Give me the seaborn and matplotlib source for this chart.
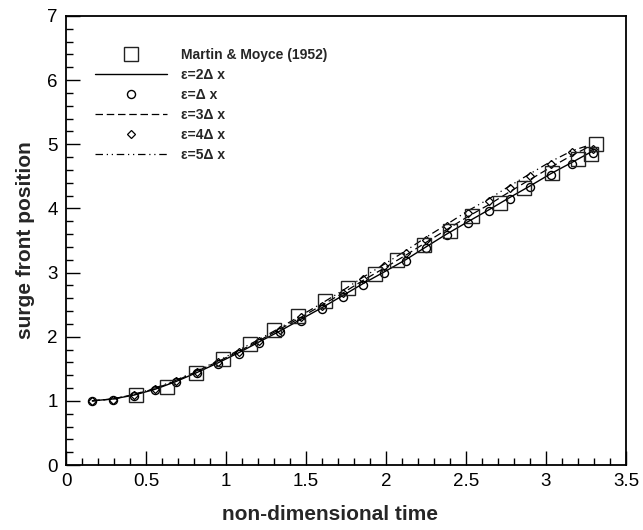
import matplotlib
matplotlib.use("Agg")
import matplotlib.pyplot as plt
import seaborn as sns
import pandas as pd
from matplotlib.ticker import MultipleLocator, FuncFormatter

# ---- data ----
mm_t = [0.44, 0.63, 0.81, 0.98, 1.15, 1.30, 1.45, 1.62, 1.76, 1.93, 2.07, 2.24,
        2.40, 2.54, 2.71, 2.86, 3.04, 3.20, 3.28, 3.31]
mm_v = [1.09, 1.21, 1.43, 1.65, 1.88, 2.10, 2.32, 2.55, 2.76, 2.98, 3.20, 3.43,
        3.65, 3.88, 4.09, 4.32, 4.55, 4.77, 4.85, 5.00]

sim_t = [0.164, 0.295, 0.425, 0.556, 0.686, 0.817, 0.948, 1.079, 1.208, 1.338,
         1.467, 1.598, 1.729, 1.858, 1.989, 2.123, 2.250, 2.379, 2.510, 2.644,
         2.773, 2.900, 3.029, 3.164, 3.296]

eps1_v = [1.00, 1.02, 1.08, 1.17, 1.29, 1.43, 1.57, 1.73, 1.90, 2.07, 2.25, 2.43,
          2.62, 2.81, 2.99, 3.18, 3.38, 3.58, 3.77, 3.96, 4.15, 4.33, 4.52, 4.70, 4.87]
eps2_v = [1.00, 1.03, 1.09, 1.18, 1.30, 1.44, 1.59, 1.75, 1.92, 2.09, 2.27, 2.45,
          2.64, 2.83, 3.01, 3.20, 3.40, 3.60, 3.79, 3.98, 4.17, 4.35, 4.54, 4.72, 4.90]
eps3_t = [0.164, 0.295, 0.425, 0.556, 0.686, 0.817, 0.948, 1.079, 1.208, 1.338,
          1.467, 1.598, 1.729, 1.858, 1.989, 2.123, 2.250, 2.379, 2.510, 2.644,
          2.773, 2.900, 3.029, 3.164, 3.260, 3.310]
eps3_v = [1.00, 1.03, 1.10, 1.19, 1.31, 1.46, 1.61, 1.77, 1.94, 2.12, 2.30, 2.49,
          2.68, 2.88, 3.07, 3.27, 3.47, 3.67, 3.87, 4.06, 4.26, 4.45, 4.64, 4.83, 4.95, 4.92]
eps4_v = [1.00, 1.02, 1.09, 1.19, 1.31, 1.45, 1.60, 1.76, 1.93, 2.11, 2.30, 2.48,
          2.68, 2.90, 3.10, 3.31, 3.51, 3.72, 3.93, 4.12, 4.32, 4.51, 4.70, 4.88, 4.93]
eps5_t = [0.164, 0.295, 0.425, 0.556, 0.686, 0.817, 0.948, 1.079, 1.208, 1.338,
          1.467, 1.598, 1.729, 1.858, 1.989, 2.123, 2.250, 2.379, 2.510, 2.644,
          2.773, 2.900, 3.029, 3.164, 3.250]
eps5_v = [1.00, 1.03, 1.10, 1.20, 1.32, 1.47, 1.62, 1.79, 1.96, 2.14, 2.33, 2.52,
          2.72, 2.93, 3.13, 3.34, 3.55, 3.75, 3.96, 4.15, 4.35, 4.54, 4.73, 4.90, 4.97]

labels = ["Martin & Moyce (1952)", "ε=2Δ x", "ε=Δ x", "ε=3Δ x", "ε=4Δ x", "ε=5Δ x"]

sns.set_theme(style="white")
plt.rcParams['font.family'] = ['Liberation Sans', 'DejaVu Sans']

fig = plt.figure(figsize=(6.43, 5.30), dpi=100)
ax = fig.add_axes([66/643, 1-465/530, (626-66)/643, (465-16)/530])

k = dict(sort=False, estimator=None, ax=ax, color='black')
sns.lineplot(x=sim_t, y=eps2_v, lw=1.0, linestyle='-', label=labels[1], **k)
sns.lineplot(x=eps3_t, y=eps3_v, lw=0.9, linestyle=(0, (6, 3)), label=labels[3], **k)
sns.lineplot(x=eps5_t, y=eps5_v, lw=0.9, linestyle=(0, (6, 3, 1, 3, 1, 3)), label=labels[5], **k)
sns.lineplot(x=sim_t, y=eps1_v, linestyle='', marker='o', markersize=5.8,
             markerfacecolor='none', markeredgecolor='black', markeredgewidth=1.0,
             label=labels[2], **k)
sns.lineplot(x=sim_t, y=eps4_v, linestyle='', marker='D', markersize=4,
             markerfacecolor='none', markeredgecolor='black', markeredgewidth=0.9,
             label=labels[4], **k)
sns.lineplot(x=mm_t, y=mm_v, linestyle='', marker='s', markersize=10,
             markerfacecolor='none', markeredgecolor='#222222', markeredgewidth=1.0,
             label=labels[0], **k)

ax.set_xlim(0, 3.5)
ax.set_ylim(0, 7)
ax.xaxis.set_major_locator(MultipleLocator(0.5))
ax.xaxis.set_minor_locator(MultipleLocator(0.1))
ax.yaxis.set_major_locator(MultipleLocator(1))
ax.yaxis.set_minor_locator(MultipleLocator(0.2))
fmt = FuncFormatter(lambda v, p: f"{v:g}")
ax.xaxis.set_major_formatter(fmt)
ax.yaxis.set_major_formatter(fmt)
ax.tick_params(which='both', direction='in', top=False, right=False,
               left=True, bottom=True, color='black', labelsize=13.5, labelcolor='black')
ax.tick_params(which='major', length=10, width=1.0, pad=6)
ax.tick_params(which='minor', length=5, width=1.0)
for s in ax.spines.values():
    s.set_color('black')
    s.set_linewidth(1.3)

ax.set_xlabel("non-dimensional time", fontsize=15, fontweight='bold')
ax.set_ylabel("surge front position", fontsize=15, fontweight='bold', labelpad=9)
ax.xaxis.set_label_coords((330 - 66) / 560, -(515 - 465) / 449, transform=ax.transAxes)
ax.xaxis.label.set_verticalalignment('center')

h, l = ax.get_legend_handles_labels()
order = [l.index(x) for x in labels]
leg = ax.legend([h[i] for i in order], [l[i] for i in order],
                loc='upper left', bbox_to_anchor=(95/643, 1-48/530),
                bbox_transform=fig.transFigure, frameon=False,
                prop={'weight': 'bold', 'size': 10}, handlelength=5.2,
                handletextpad=1.0, labelspacing=0.43, borderpad=0, borderaxespad=0)

fig.savefig("out.png", dpi=100)
